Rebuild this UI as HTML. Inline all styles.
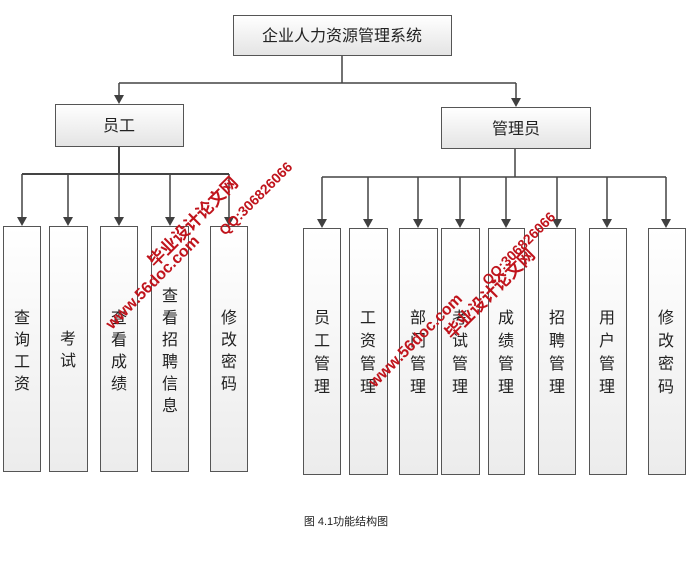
<!DOCTYPE html>
<html><head><meta charset="utf-8"><style>
body{margin:0;background:#fff;width:692px;height:558px;overflow:hidden}
svg text{font-family:"Liberation Sans","Noto Sans CJK SC",sans-serif}
</style></head><body>
<svg width="692" height="558" viewBox="0 0 692 558" xmlns="http://www.w3.org/2000/svg">
<defs>
<linearGradient id="g" x1="0" y1="0" x2="0" y2="1"><stop offset="0" stop-color="#ffffff"/><stop offset="1" stop-color="#e4e4e4"/></linearGradient>
<linearGradient id="gv" x1="0" y1="0" x2="0" y2="1"><stop offset="0" stop-color="#ffffff"/><stop offset="1" stop-color="#ececec"/></linearGradient>
<path id="ar" d="M-5,-9 L5,-9 L0,0 z" fill="#404040"/>
</defs>
<g stroke="#444" stroke-width="1.5" fill="none">
<path d="M342 55 V83 M119 83 H516 M119 83 V96 M516 83 V99"/>
<path d="M119 146 V174 M22 174 H229" stroke-width="2"/>
<path d="M22 174 V218 M68 174 V218 M119 174 V218 M170 174 V218 M229 174 V218"/>
<path d="M515 148 V177 M322 177 H666"/>
<path d="M322 177 V220 M368 177 V220 M418 177 V220 M460 177 V220 M506 177 V220 M557 177 V220 M607 177 V220 M666 177 V220"/>
</g>
<use href="#ar" x="119" y="104"/><use href="#ar" x="516" y="107"/>
<use href="#ar" x="22" y="226"/><use href="#ar" x="68" y="226"/><use href="#ar" x="119" y="226"/><use href="#ar" x="170" y="226"/><use href="#ar" x="229" y="226"/>
<use href="#ar" x="322" y="228"/><use href="#ar" x="368" y="228"/><use href="#ar" x="418" y="228"/><use href="#ar" x="460" y="228"/><use href="#ar" x="506" y="228"/><use href="#ar" x="557" y="228"/><use href="#ar" x="607" y="228"/><use href="#ar" x="666" y="228"/>
<g stroke="#555" stroke-width="1" fill="url(#g)">
<rect x="233.5" y="15.5" width="218" height="40"/>
<rect x="55.5" y="104.5" width="128" height="42"/>
<rect x="441.5" y="107.5" width="149" height="41"/>
</g>
<g stroke="#555" stroke-width="1" fill="url(#gv)">
<rect x="3.5" y="226.5" width="37" height="245"/>
<rect x="49.5" y="226.5" width="38" height="245"/>
<rect x="100.5" y="226.5" width="37" height="245"/>
<rect x="151.5" y="226.5" width="37" height="245"/>
<rect x="210.5" y="226.5" width="37" height="245"/>
<rect x="303.5" y="228.5" width="37" height="246"/>
<rect x="349.5" y="228.5" width="38" height="246"/>
<rect x="399.5" y="228.5" width="38" height="246"/>
<rect x="441.5" y="228.5" width="38" height="246"/>
<rect x="488.5" y="228.5" width="36" height="246"/>
<rect x="538.5" y="228.5" width="37" height="246"/>
<rect x="589.5" y="228.5" width="37" height="246"/>
<rect x="648.5" y="228.5" width="37" height="246"/>
</g>
<g fill="#222" font-size="16" text-anchor="middle">
<text x="342" y="41">企业人力资源管理系统</text>
<text x="119" y="131">员工</text>
<text x="516" y="134">管理员</text>
</g>
<g fill="#222" font-size="16" text-anchor="middle">
<text x="22" y="323">查</text><text x="22" y="345">询</text><text x="22" y="367">工</text><text x="22" y="389">资</text>
<text x="68" y="344">考</text><text x="68" y="366">试</text>
<text x="119" y="323">查</text><text x="119" y="345">看</text><text x="119" y="367">成</text><text x="119" y="389">绩</text>
<text x="170" y="301">查</text><text x="170" y="323">看</text><text x="170" y="345">招</text><text x="170" y="367">聘</text><text x="170" y="389">信</text><text x="170" y="411">息</text>
<text x="229" y="323">修</text><text x="229" y="345">改</text><text x="229" y="367">密</text><text x="229" y="389">码</text>
</g>
<g fill="#222" font-size="16" text-anchor="middle">
<text x="322" y="323">员</text><text x="322" y="346">工</text><text x="322" y="369">管</text><text x="322" y="392">理</text>
<text x="368" y="323">工</text><text x="368" y="346">资</text><text x="368" y="369">管</text><text x="368" y="392">理</text>
<text x="418" y="323">部</text><text x="418" y="346">门</text><text x="418" y="369">管</text><text x="418" y="392">理</text>
<text x="460" y="323">考</text><text x="460" y="346">试</text><text x="460" y="369">管</text><text x="460" y="392">理</text>
<text x="506" y="323">成</text><text x="506" y="346">绩</text><text x="506" y="369">管</text><text x="506" y="392">理</text>
<text x="557" y="323">招</text><text x="557" y="346">聘</text><text x="557" y="369">管</text><text x="557" y="392">理</text>
<text x="607" y="323">用</text><text x="607" y="346">户</text><text x="607" y="369">管</text><text x="607" y="392">理</text>
<text x="666" y="323">修</text><text x="666" y="346">改</text><text x="666" y="369">密</text><text x="666" y="392">码</text>
</g>
<g fill="#c0141c" font-weight="bold">
<text transform="translate(155,268) rotate(-45)" font-size="17">毕业设计论文网</text>
<text transform="translate(112,330) rotate(-45)" font-size="16">www.56doc.com</text>
<text transform="translate(225,236) rotate(-45)" font-size="14">QQ:306826066</text>
<text transform="translate(375,388) rotate(-45)" font-size="16">www.56doc.com</text>
<text transform="translate(452,340) rotate(-45)" font-size="17">毕业设计论文网</text>
<text transform="translate(488,286) rotate(-45)" font-size="14">QQ:306826066</text>
</g>
<text x="346" y="525" font-size="11" fill="#222" text-anchor="middle">图 4.1功能结构图</text>
</svg>
</body></html>
